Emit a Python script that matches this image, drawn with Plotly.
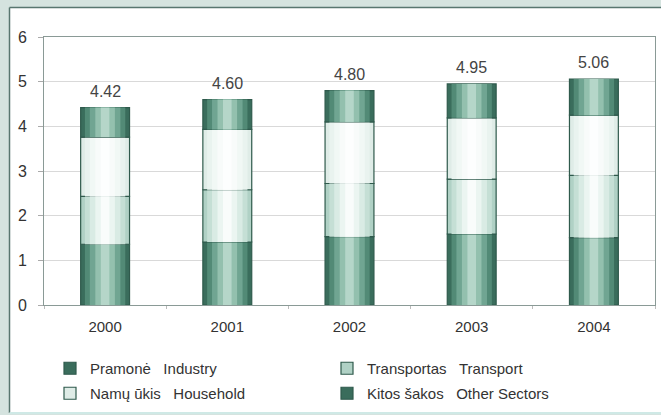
import plotly.graph_objects as go

years = ["2000", "2001", "2002", "2003", "2004"]
industry = [1.36, 1.41, 1.53, 1.59, 1.51]
transport = [1.07, 1.17, 1.19, 1.23, 1.39]
household = [1.33, 1.35, 1.38, 1.37, 1.35]
totals = [4.42, 4.60, 4.80, 4.95, 5.06]
other = [round(t - i - tr - h, 2) for t, i, tr, h in zip(totals, industry, transport, household)]

names = ["Pramonė\u00a0\u00a0\u00a0Industry", "Transportas\u00a0\u00a0\u00a0Transport",
         "Namų ūkis\u00a0\u00a0\u00a0Household", "Kitos šakos\u00a0\u00a0\u00a0Other Sectors"]
series = [industry, transport, household, other]
legends = ["legend", "legend", "legend2", "legend2"]

shades = [
    ["#3a6d5c", "#528a76", "#70a592", "#93c0ae", "#b5d6c9"],
    ["#b0d1c5", "#c5dfd5", "#d9ebe4", "#ebf5f1", "#f9fcfb"],
    ["#dfece7", "#e9f3ef", "#f1f8f5", "#f8fbfa", "#fdfefe"],
    ["#3a6d5c", "#528a76", "#70a592", "#93c0ae", "#b5d6c9"],
]
widths = [0.40, 0.33, 0.25, 0.16, 0.07]

fig = go.Figure()
base = [0.0] * len(years)
for s, vals in enumerate(series):
    for k, (col, w) in enumerate(zip(shades[s], widths)):
        first = k == 0
        fig.add_trace(go.Bar(
            x=years, y=vals, base=base, width=w,
            name=names[s], showlegend=first, legend=legends[s],
            marker=dict(color=col,
                        line=dict(color="#2f5a4c" if first else col, width=1.2 if first else 0)),
            hoverinfo="skip",
        ))
    base = [b + v for b, v in zip(base, vals)]

for i, t in enumerate(totals):
    fig.add_annotation(x=i, y=t, text=f"{t:.2f}", showarrow=False, yanchor="bottom",
                       yshift=6, font=dict(size=16, color="#444444"))

W, H = 661, 415
L, R, T, B = 44, 6, 37, 110
pw, ph = W - L - R, H - T - B
def px(x): return (x - L) / pw
def py(y): return (H - B - y) / ph

fig.add_shape(type="rect", xref="paper", yref="paper", x0=px(9.5), x1=px(670), y0=py(412), y1=py(7.5),
              fillcolor="white", line=dict(width=0), layer="below")
fig.add_shape(type="line", xref="paper", yref="paper", x0=px(9.5), x1=px(670), y0=py(7.5), y1=py(7.5),
              line=dict(color="#58766f", width=1.5), layer="below")
fig.add_shape(type="line", xref="paper", yref="paper", x0=px(9.5), x1=px(9.5), y0=py(413), y1=py(7.5),
              line=dict(color="#58766f", width=1.5), layer="below")
fig.add_shape(type="line", xref="paper", yref="paper", x0=px(9.5), x1=px(670), y0=py(413), y1=py(413),
              line=dict(color="#cfe9e6", width=2), layer="below")

leg_common = dict(orientation="h", xanchor="left", yanchor="top",
                  entrywidth=232, entrywidthmode="pixels", bgcolor="rgba(0,0,0,0)",
                  font=dict(size=15, color="#333333"), itemwidth=30, traceorder="normal")
fig.update_layout(
    width=W, height=H,
    margin=dict(l=L, r=R, t=T, b=B, autoexpand=False),
    barmode="overlay",
    paper_bgcolor="#d5e3df", plot_bgcolor="white",
    font=dict(family="Liberation Sans, Arial, sans-serif", size=14, color="#333333"),
    legend=dict(x=px(50), y=py(352), **leg_common),
    legend2=dict(x=px(50), y=py(377), **leg_common),
    showlegend=True,
)
fig.update_xaxes(type="category", showline=True, linecolor="#8a9a96", linewidth=1, mirror=True,
                 ticks="outside", tickson="boundaries", ticklen=3, tickcolor="#bbbbbb",
                 ticklabelstandoff=8,
                 tickfont=dict(size=15, color="#333333"), showgrid=False)
fig.update_yaxes(range=[0, 6], dtick=1, showline=True, linecolor="#8a9a96", linewidth=1, mirror=True,
                 ticks="outside", ticklen=5, tickcolor="#aaaaaa", ticklabelstandoff=8,
                 gridcolor="#d9d9d9", gridwidth=1, zeroline=False,
                 tickfont=dict(size=16, color="#333333"))

fig.write_html("out.html", config={"displayModeBar": False},
               post_script="document.body.style.margin='0';")
